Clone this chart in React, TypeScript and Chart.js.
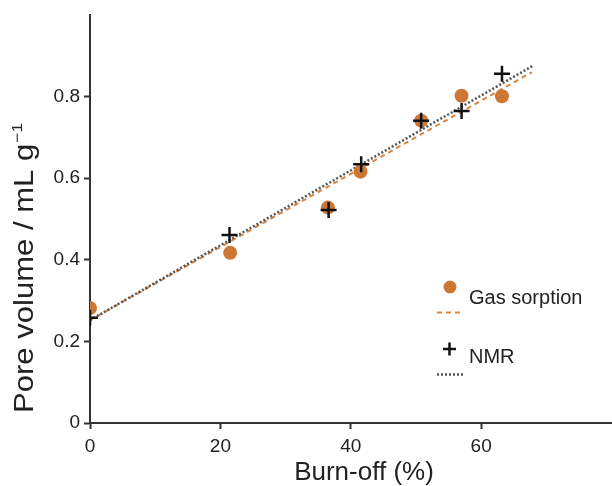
import React, { useEffect, useRef } from 'react';
import { Chart, registerables } from 'chart.js';

Chart.register(...registerables);

// ---- data ----
const gasBurnOff = [0, 21.5, 36.5, 41.5, 50.8, 57, 63.2];
const gasSorption = [0.282, 0.417, 0.528, 0.616, 0.741, 0.802, 0.801];
const nmrBurnOff = [0, 21.4, 36.6, 41.6, 50.8, 57, 63.2];
const nmrVolume = [0.258, 0.461, 0.522, 0.634, 0.741, 0.765, 0.856];
const gasFitX = [0, 67.8];
const gasFitY = [0.252, 0.86];
const nmrFitX = [0, 68.1];
const nmrFitY = [0.252, 0.877];
const xTickValues = [0, 20, 40, 60];
const yTickValues = [0, 0.2, 0.4, 0.6, 0.8];
const legendLabels = ['Gas sorption', 'NMR'];
const xTitle = 'Burn-off (%)';
const yTitleMain = 'Pore volume / mL g';
const yTitleSup = '\u22121';

const FONT = '"Liberation Sans", Arial, Helvetica, sans-serif';
const ORANGE = '#CC7834';
const ORANGE_LINE = '#D98540';
const AXIS = '#333333';
const TEXT = '#222222';

const zip = (xs: number[], ys: number[]) => xs.map((x, i) => ({ x, y: ys[i] }));

const overlayPlugin = {
  id: 'overlay',
  afterDraw(chart: any) {
    const ctx = chart.ctx as CanvasRenderingContext2D;
    ctx.save();
    ctx.fillStyle = TEXT;
    // x title
    ctx.font = `26px ${FONT}`;
    ctx.textAlign = 'center';
    ctx.textBaseline = 'alphabetic';
    ctx.fillText(xTitle, 364, 480);
    // y title (rotated)
    ctx.save();
    ctx.translate(33, 413);
    ctx.rotate(-Math.PI / 2);
    ctx.scale(1.15, 1);
    ctx.textAlign = 'left';
    ctx.font = `27px ${FONT}`;
    ctx.fillText(yTitleMain, 0, 0);
    const w = ctx.measureText(yTitleMain).width;
    ctx.font = `15px ${FONT}`;
    ctx.fillText(yTitleSup, w + 1, -11);
    ctx.restore();

    // legend
    ctx.font = `20px ${FONT}`;
    ctx.textAlign = 'left';
    ctx.textBaseline = 'middle';
    ctx.fillStyle = TEXT;
    ctx.fillText(legendLabels[0], 469, 298);
    ctx.fillText(legendLabels[1], 469, 357);
    // circle
    ctx.fillStyle = ORANGE;
    ctx.beginPath();
    ctx.arc(450, 287, 6.5, 0, Math.PI * 2);
    ctx.fill();
    // dashed sample
    ctx.strokeStyle = ORANGE_LINE;
    ctx.lineWidth = 2;
    ctx.setLineDash([5, 4]);
    ctx.beginPath();
    ctx.moveTo(437, 312.5);
    ctx.lineTo(464, 312.5);
    ctx.stroke();
    // plus
    ctx.setLineDash([]);
    ctx.strokeStyle = '#111';
    ctx.lineWidth = 2.5;
    ctx.beginPath();
    ctx.moveTo(443, 349);
    ctx.lineTo(456, 349);
    ctx.moveTo(449.5, 342.5);
    ctx.lineTo(449.5, 355.5);
    ctx.stroke();
    // dotted sample
    ctx.strokeStyle = '#555';
    ctx.lineWidth = 2.5;
    ctx.setLineDash([2, 2]);
    ctx.beginPath();
    ctx.moveTo(437, 374.5);
    ctx.lineTo(465, 374.5);
    ctx.stroke();
    ctx.restore();
  },
};

export default function App() {
  const ref = useRef<HTMLCanvasElement | null>(null);

  useEffect(() => {
    if (!ref.current) return;
    const chart = new Chart(ref.current, {
      type: 'scatter',
      data: {
        datasets: [
          {
            label: 'NMR',
            data: zip(nmrBurnOff, nmrVolume),
            pointStyle: 'cross',
            pointRadius: 8,
            pointBorderWidth: 2.5,
            borderColor: '#111',
            backgroundColor: '#111',
          } as any,
          {
            label: 'Gas sorption',
            data: zip(gasBurnOff, gasSorption),
            pointStyle: 'circle',
            pointRadius: 7,
            pointBorderWidth: 0,
            borderColor: ORANGE,
            backgroundColor: ORANGE,
          } as any,
          {
            label: 'NMR fit',
            data: zip(nmrFitX, nmrFitY),
            showLine: true,
            pointRadius: 0,
            borderColor: '#555',
            borderWidth: 2.5,
            borderDash: [2, 2],
            fill: false,
          } as any,
          {
            label: 'Gas fit',
            data: zip(gasFitX, gasFitY),
            showLine: true,
            pointRadius: 0,
            borderColor: ORANGE_LINE,
            borderWidth: 2,
            borderDash: [5, 4],
            fill: false,
          } as any,
        ],
      },
      options: {
        animation: false,
        responsive: false,
        maintainAspectRatio: false,
        layout: { padding: { top: 15, right: 0, left: 0, bottom: 0 } },
        plugins: {
          legend: { display: false },
          tooltip: { enabled: false },
          title: { display: false },
        },
        scales: {
          x: {
            type: 'linear',
            min: 0,
            max: 80,
            afterBuildTicks: (s: any) => {
              s.ticks = xTickValues.map((v) => ({ value: v }));
            },
            afterFit: (s: any) => {
              s.height = 63;
              s.paddingLeft = 0;
              s.paddingRight = 0;
            },
            grid: {
              display: true,
              drawOnChartArea: false,
              drawTicks: true,
              tickLength: 6,
              tickColor: AXIS,
              tickWidth: 2,
            },
            border: { display: true, color: AXIS, width: 2 },
            ticks: {
              padding: 6,
              autoSkip: false,
              maxRotation: 0,
              color: TEXT,
              font: { family: FONT, size: 19 },
              callback: (v: any) => String(v),
            },
          },
          y: {
            type: 'linear',
            min: 0,
            max: 1.0,
            afterBuildTicks: (s: any) => {
              s.ticks = yTickValues.map((v) => ({ value: v }));
            },
            afterFit: (s: any) => {
              s.width = 90;
              s.paddingTop = 0;
              s.paddingBottom = 0;
            },
            grid: {
              display: true,
              drawOnChartArea: false,
              drawTicks: true,
              tickLength: 6,
              tickColor: AXIS,
              tickWidth: 2,
            },
            border: { display: true, color: AXIS, width: 2 },
            ticks: {
              padding: 4,
              autoSkip: false,
              color: TEXT,
              font: { family: FONT, size: 19 },
              callback: (v: any) => (Number(v) === 0 ? '0' : Number(v).toFixed(1)),
            },
          },
        },
      },
      plugins: [overlayPlugin],
    } as any);
    return () => chart.destroy();
  }, []);

  return (
    <div
      style={{
        position: 'fixed',
        left: 0,
        top: 0,
        width: 612,
        height: 486,
        overflow: 'hidden',
        background: '#fff',
      }}
    >
      <canvas ref={ref} width={622} height={486} style={{ display: 'block', width: 622, height: 486 }} />
    </div>
  );
}
